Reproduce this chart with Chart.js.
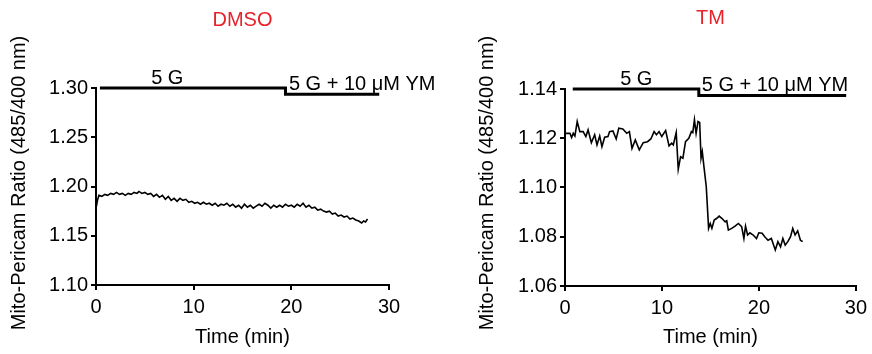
<!DOCTYPE html>
<html>
<head>
<meta charset="utf-8">
<script src="https://cdn.jsdelivr.net/npm/chart.js@4/dist/chart.umd.min.js"></script>
<style>
  html, body { margin: 0; padding: 0; background: #fff; }
  #wrap { position: relative; width: 872px; height: 354px; }
  #wrap canvas { position: absolute; left: 0; top: 0; }
</style>
</head>
<body>
<div id="wrap">
  <canvas id="dmsoChart" width="872" height="354"></canvas>
  <canvas id="tmChart" width="872" height="354"></canvas>
</div>
<script>
// DMSO trace (min, ratio)
const dmsoTime = [0.05, 0.15, 0.3, 0.6, 0.9, 1.2, 1.5, 1.8, 2.1, 2.4, 2.7, 3.0, 3.3, 3.6, 3.9, 4.2, 4.4, 4.7, 5.0, 5.3,
  5.6, 5.9, 6.2, 6.5, 6.8, 7.1, 7.4, 7.7, 8.0, 8.3, 8.6, 8.9, 9.2, 9.5, 9.8, 10.1, 10.4, 10.7, 11.0, 11.3,
  11.6, 11.9, 12.2, 12.5, 12.8, 13.1, 13.4, 13.7, 14.0, 14.3, 14.6, 14.9, 15.2, 15.5, 15.8, 16.1, 16.4, 16.7, 17.0, 17.3,
  17.6, 17.9, 18.2, 18.5, 18.8, 19.1, 19.4, 19.7, 20.0, 20.3, 20.6, 20.9, 21.2, 21.5, 21.8, 22.1, 22.4, 22.7, 23.0, 23.3,
  23.6, 23.9, 24.2, 24.5, 24.8, 25.1, 25.4, 25.7, 26.0, 26.3, 26.6, 26.9, 27.2, 27.4, 27.6, 27.8];
const dmsoRatio = [1.180, 1.186, 1.191, 1.190, 1.192, 1.191, 1.193, 1.192, 1.194, 1.192, 1.193, 1.191, 1.193, 1.192, 1.194, 1.193, 1.195, 1.193, 1.194, 1.192,
  1.193, 1.190, 1.192, 1.189, 1.191, 1.187, 1.190, 1.186, 1.188, 1.185, 1.188, 1.186, 1.187, 1.184, 1.185, 1.183, 1.184, 1.182, 1.184, 1.182,
  1.183, 1.181, 1.183, 1.180, 1.182, 1.181, 1.183, 1.180, 1.182, 1.179, 1.181, 1.178, 1.182, 1.179, 1.181, 1.178, 1.180, 1.182, 1.180, 1.183,
  1.181, 1.178, 1.181, 1.179, 1.181, 1.179, 1.182, 1.180, 1.181, 1.179, 1.182, 1.180, 1.183, 1.179, 1.181, 1.178, 1.179, 1.176, 1.177, 1.175,
  1.174, 1.175, 1.172, 1.173, 1.170, 1.171, 1.169, 1.170, 1.167, 1.168, 1.166, 1.165, 1.163, 1.165, 1.164, 1.167];

// TM trace (min, ratio)
const tmTime = [0.10, 0.51, 0.68, 0.85, 1.02, 1.26, 1.53, 1.87, 2.15, 2.38, 2.72, 3.06, 3.30, 3.58, 3.81, 4.09, 4.43, 4.60, 4.94, 5.28,
  5.55, 5.96, 6.37, 6.64, 6.91, 7.25, 7.66, 8.07, 8.51, 8.85, 9.19, 9.43, 9.70, 9.98, 10.38, 10.73, 11.00, 11.17, 11.47, 11.68,
  11.92, 12.16, 12.43, 12.77, 13.04, 13.18, 13.35, 13.52, 13.72, 13.89, 14.03, 14.16, 14.33, 14.57, 14.81, 14.98, 15.15, 15.39, 15.66, 15.90,
  16.17, 16.51, 16.68, 16.85, 17.19, 17.54, 17.88, 18.22, 18.45, 18.62, 18.83, 19.07, 19.41, 19.75, 19.99, 20.33, 20.60, 20.94, 21.28, 21.69,
  21.96, 22.23, 22.47, 22.71, 22.98, 23.26, 23.49, 23.73, 24.00, 24.28, 24.51];
const tmRatio = [1.1220, 1.1220, 1.1203, 1.1220, 1.1209, 1.1268, 1.1227, 1.1227, 1.1207, 1.1234, 1.1182, 1.1214, 1.1173, 1.1209, 1.1166, 1.1204, 1.1207, 1.1227, 1.1230, 1.1197,
  1.1241, 1.1238, 1.1220, 1.1227, 1.1159, 1.1193, 1.1153, 1.1182, 1.1186, 1.1197, 1.1227, 1.1214, 1.1227, 1.1207, 1.1231, 1.1169, 1.1180, 1.1173, 1.1223, 1.1074,
  1.1125, 1.1119, 1.1186, 1.1200, 1.1227, 1.1223, 1.1275, 1.1220, 1.1268, 1.1264, 1.1119, 1.1146, 1.1085, 1.1003, 1.0834, 1.0854, 1.0834, 1.0868, 1.0875, 1.0884,
  1.0875, 1.0861, 1.0865, 1.0827, 1.0834, 1.0843, 1.0854, 1.0841, 1.0793, 1.0843, 1.0807, 1.0816, 1.0807, 1.0793, 1.0816, 1.0814, 1.0800, 1.0786, 1.0793, 1.0746,
  1.0780, 1.0759, 1.0793, 1.0766, 1.0780, 1.0800, 1.0834, 1.0807, 1.0824, 1.0786, 1.0780];

// Treatment bars above each trace: 5 G, then 5 G + 10 uM YM
const dmsoBarTime = [0.4, 19.4, 19.4, 29.0];
const dmsoBarLevel = [1.30, 1.30, 1.2936, 1.2936];
const tmBarTime = [0.8, 13.8, 13.8, 29.0];
const tmBarLevel = [1.14, 1.14, 1.1374, 1.1374];

// Axis ticks
const timeTicks = [0, 10, 20, 30];
const dmsoTicks = [1.10, 1.15, 1.20, 1.25, 1.30];
const tmTicks = [1.06, 1.08, 1.10, 1.12, 1.14];

const FONT = "'Liberation Sans', Arial, Helvetica, sans-serif";
const pts = (xs, ys) => xs.map((x, i) => ({ x, y: ys[i] }));

// titles, axis titles and bar labels
const panelText = {
  id: "panelText",
  afterDraw(chart, args, opts) {
    const { ctx, chartArea: a, scales } = chart;
    const cx = (a.left + a.right) / 2;
    ctx.save();
    ctx.font = "20px " + FONT;
    ctx.textAlign = "center";
    ctx.textBaseline = "middle";
    ctx.fillStyle = "#e8222b";
    ctx.fillText(opts.title, cx, opts.titleY);

    ctx.fillStyle = "#000";
    ctx.fillText("Time (min)", cx, 337);

    ctx.save();
    ctx.translate(opts.yTitleX, 183);
    ctx.rotate(-Math.PI / 2);
    ctx.fillText("Mito-Pericam Ratio (485/400 nm)", 0, 0);
    ctx.restore();

    ctx.textBaseline = "alphabetic";
    ctx.fillText("5 G", scales.x.getPixelForValue(opts.label1X), scales.y.getPixelForValue(opts.barTop) - 4);
    ctx.textAlign = "left";
    ctx.fillText("5 G + 10 \u03bcM YM", scales.x.getPixelForValue(opts.label2X), scales.y.getPixelForValue(opts.barLow) - 4);
    ctx.restore();
  }
};

function makePanel(id, cfg) {
  new Chart(document.getElementById(id), {
    type: "line",
    data: {
      datasets: [
        { data: pts(cfg.time, cfg.ratio), borderColor: "#000", borderWidth: 1.6, pointRadius: 0, tension: 0 },
        { data: pts(cfg.barTime, cfg.barLevel), borderColor: "#000", borderWidth: 3, pointRadius: 0, tension: 0, clip: false }
      ]
    },
    options: {
      responsive: false,
      animation: false,
      devicePixelRatio: 1,
      layout: { padding: { left: cfg.padLeft, right: cfg.padRight, top: cfg.padTop, bottom: 0 } },
      plugins: {
        legend: { display: false },
        tooltip: { enabled: false },
        panelText: cfg.text
      },
      scales: {
        x: {
          type: "linear",
          min: 0, max: 30,
          afterBuildTicks: s => { s.ticks = timeTicks.map(v => ({ value: v })); },
          afterFit: s => { s.height = cfg.xHeight; },
          ticks: { color: "#000", font: { family: FONT, size: 20 }, padding: 5, maxRotation: 0 },
          grid: { drawOnChartArea: false, drawTicks: true, tickLength: 5, color: "#000", lineWidth: 2 },
          border: { display: true, color: "#000", width: 2 }
        },
        y: {
          min: cfg.yTicks[0], max: cfg.yTicks[cfg.yTicks.length - 1],
          afterBuildTicks: s => { s.ticks = cfg.yTicks.map(v => ({ value: v })); },
          afterFit: s => { s.width = cfg.yWidth; },
          ticks: { color: "#000", font: { family: FONT, size: 20 }, padding: 3, callback: v => v.toFixed(2) },
          grid: { drawOnChartArea: false, drawTicks: true, tickLength: 5, color: "#000", lineWidth: 2 },
          border: { display: true, color: "#000", width: 2 }
        }
      }
    },
    plugins: [panelText]
  });
}

makePanel("dmsoChart", {
  time: dmsoTime, ratio: dmsoRatio, barTime: dmsoBarTime, barLevel: dmsoBarLevel, yTicks: dmsoTicks,
  padLeft: 0, yWidth: 96, padRight: 872 - 389, padTop: 88, xHeight: 354 - 285,
  text: { title: "DMSO", titleY: 20, yTitleX: 19, label1X: 7.3, label2X: 19.75, barTop: 1.30, barLow: 1.2936 }
});

makePanel("tmChart", {
  time: tmTime, ratio: tmRatio, barTime: tmBarTime, barLevel: tmBarLevel, yTicks: tmTicks,
  padLeft: 440, yWidth: 125, padRight: 872 - 859, padTop: 89, xHeight: 354 - 286,
  text: { title: "TM", titleY: 18, yTitleX: 487, label1X: 7.35, label2X: 14.1, barTop: 1.14, barLow: 1.1374 }
});
</script>
</body>
</html>
